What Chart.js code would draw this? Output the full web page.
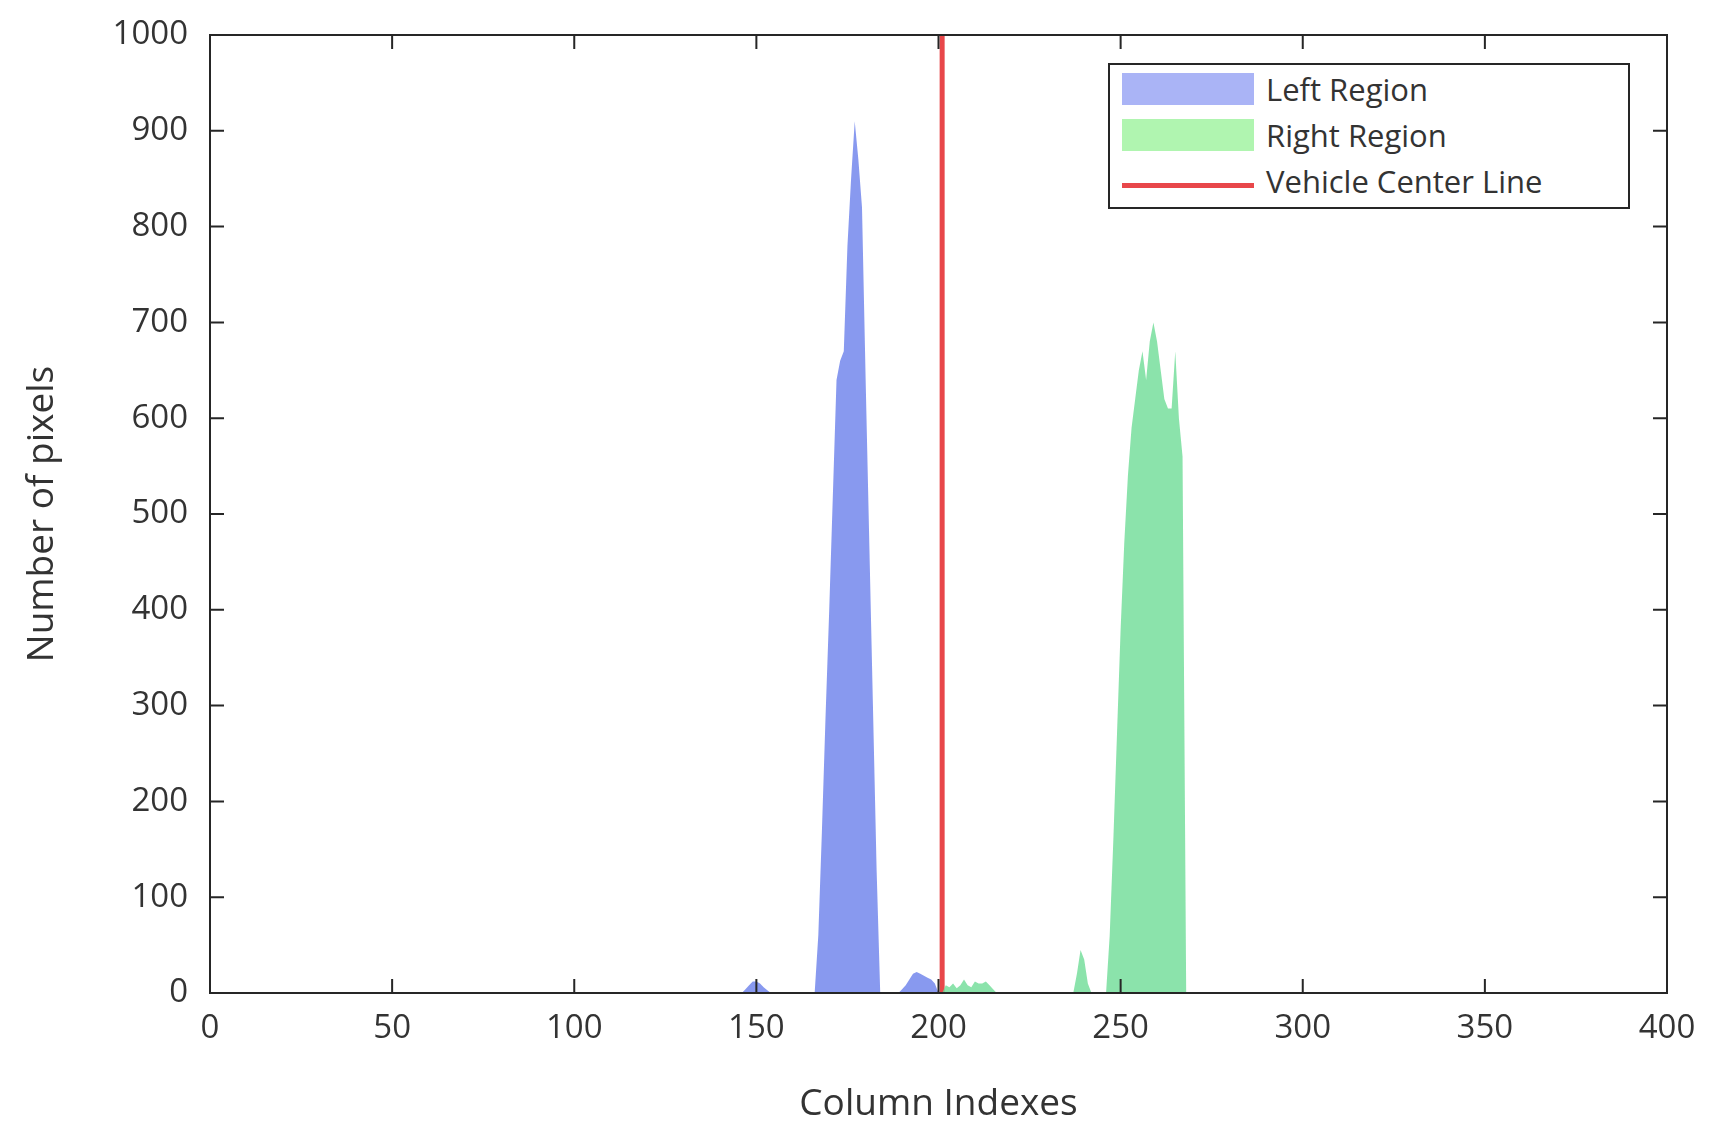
<!DOCTYPE html>
<html>
<head>
<meta charset="utf-8">
<script src="https://cdn.jsdelivr.net/npm/chart.js@4/dist/chart.umd.min.js"></script>
<style>
  html, body { margin: 0; padding: 0; background: #fff; }
  #wrap { position: relative; width: 1720px; height: 1131px; }
  #legend {
    position: absolute; left: 1108px; top: 63px; width: 522px; height: 146px;
    border: 2px solid #262626; background: #fff; box-sizing: border-box;
    font-family: "Open Sans", "DejaVu Sans", sans-serif; font-size: 31px; color: #333;
  }
  .row { position: absolute; left: 12px; height: 40px; display: flex; align-items: center; }
  .sw { width: 132px; height: 32px; margin-right: 12px; }
</style>
</head>
<body>
<div id="wrap">
  <canvas id="chart" width="1720" height="1131"></canvas>
  <div id="legend">
    <div class="row" style="top:4px"><div class="sw" style="background:#aab4f6"></div>Left Region</div>
    <div class="row" style="top:50px"><div class="sw" style="background:#b0f5b0"></div>Right Region</div>
    <div class="row" style="top:96px"><div class="sw" style="height:5px;background:#e8474a;margin-top:8px"></div>Vehicle Center Line</div>
  </div>
</div>
<script>
const leftX = [146, 147, 148, 149, 150, 151, 152, 153, 154, 166, 167, 168, 169, 170, 171, 172, 173, 174, 175, 176, 177, 178, 179, 180, 181, 182, 183, 184, 189, 190, 191, 192, 193, 194, 195, 196, 197, 198, 199, 200];
const leftY = [0, 4, 8, 12, 12, 10, 6, 3, 0, 0, 60, 170, 290, 400, 520, 640, 660, 670, 780, 850, 910, 870, 820, 640, 470, 300, 130, 0, 0, 4, 8, 14, 20, 22, 20, 18, 16, 14, 10, 0];
const rightX = [201, 202, 203, 204, 205, 206, 207, 208, 209, 210, 211, 212, 213, 214, 215, 216, 237, 238, 239, 240, 241, 242, 246, 247, 248, 249, 250, 251, 252, 253, 254, 255, 256, 257, 258, 259, 260, 261, 262, 263, 264, 265, 266, 267, 268, 269];
const rightY = [0, 8, 6, 10, 5, 8, 14, 8, 6, 12, 10, 10, 12, 8, 4, 0, 0, 20, 45, 35, 10, 0, 0, 60, 160, 270, 380, 470, 540, 590, 620, 650, 670, 640, 680, 700, 680, 650, 620, 610, 610, 670, 600, 560, 0];
const centerX = 201;
const xTicks = [0, 50, 100, 150, 200, 250, 300, 350, 400];
const yTicks = [0, 100, 200, 300, 400, 500, 600, 700, 800, 900, 1000];

const toPoints = (xs, ys) => xs.map((x, i) => ({ x, y: ys[i] ?? 0 }));
const ink = '#333';
const font = { family: '"Open Sans", "DejaVu Sans", sans-serif', size: 33 };

const boxPlugin = {
    id: 'box',
    afterDraw(chart) {
        const { ctx, chartArea: a, scales } = chart;
        ctx.save();
        ctx.strokeStyle = '#262626';
        ctx.lineWidth = 2;
        ctx.strokeRect(a.left, a.top, a.right - a.left, a.bottom - a.top);
        ctx.beginPath();
        xTicks.forEach((v) => {
            const px = scales.x.getPixelForValue(v);
            ctx.moveTo(px, a.bottom); ctx.lineTo(px, a.bottom - 14);
            ctx.moveTo(px, a.top); ctx.lineTo(px, a.top + 14);
        });
        yTicks.forEach((v) => {
            const py = scales.y.getPixelForValue(v);
            ctx.moveTo(a.left, py); ctx.lineTo(a.left + 14, py);
            ctx.moveTo(a.right, py); ctx.lineTo(a.right - 14, py);
        });
        ctx.stroke();
        ctx.restore();
    },
};

new Chart(document.getElementById('chart'), {
    type: 'line',
    data: {
        datasets: [
            {
                label: 'Left Region',
                data: toPoints(leftX, leftY),
                borderWidth: 0,
                backgroundColor: 'rgba(110,130,235,0.82)',
                fill: 'origin',
                pointRadius: 0,
            },
            {
                label: 'Right Region',
                data: toPoints(rightX, rightY),
                borderWidth: 0,
                backgroundColor: 'rgba(110,220,150,0.8)',
                fill: 'origin',
                pointRadius: 0,
            },
            {
                label: 'Vehicle Center Line',
                data: [{ x: centerX, y: 0 }, { x: centerX, y: 1000 }],
                borderColor: '#e8474a',
                borderWidth: 5,
                pointRadius: 0,
                fill: false,
            },
        ],
    },
    options: {
        responsive: false,
        animation: false,
        layout: { padding: { left: 0, right: 53, top: 35, bottom: 0 } },
        plugins: { legend: { display: false }, tooltip: { enabled: false } },
        scales: {
            x: {
                type: 'linear', min: 0, max: 400,
                afterBuildTicks: (s) => { s.ticks = xTicks.map((v) => ({ value: v })); },
                afterFit: (s) => { s.height = 138; },
                grid: { display: false },
                border: { display: false },
                ticks: { color: ink, font, padding: 8, callback: (v) => String(v) },
                title: { display: true, text: 'Column Indexes', color: ink, font: { ...font, size: 37 }, padding: { top: 0 } },
            },
            y: {
                min: 0, max: 1000,
                afterBuildTicks: (s) => { s.ticks = yTicks.map((v) => ({ value: v })); },
                afterFit: (s) => { s.width = 210; },
                grid: { display: false },
                border: { display: false },
                ticks: { color: ink, font, padding: 14, callback: (v) => String(v) },
                title: { display: true, text: 'Number of pixels', color: ink, font: { ...font, size: 37 }, padding: { top: 20, bottom: 4 } },
            },
        },
    },
    plugins: [boxPlugin],
});
</script>
</body>
</html>
